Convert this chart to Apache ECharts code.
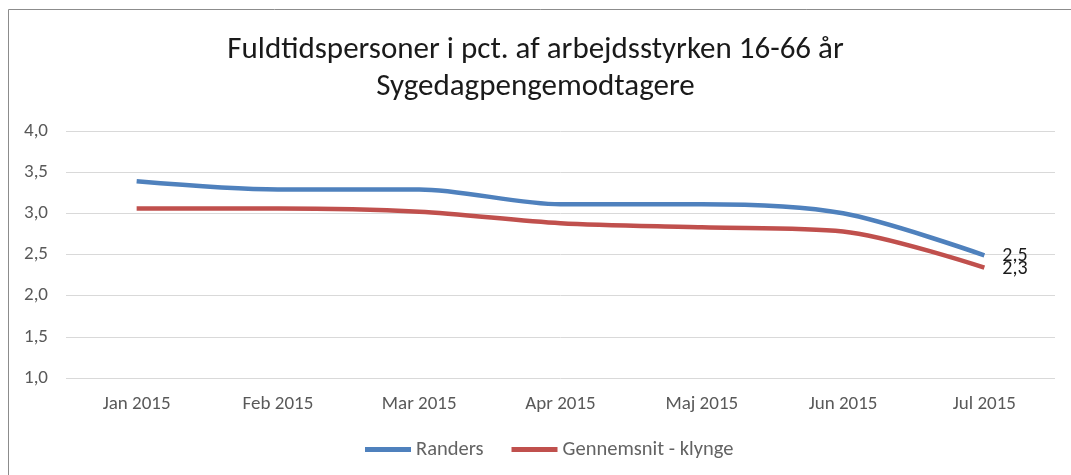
<!DOCTYPE html>
<html><head><meta charset="utf-8">
<script src="https://cdn.jsdelivr.net/npm/echarts@6/dist/echarts.min.js"></script>
<style>html,body{margin:0;padding:0;background:#fff}#c{width:1071px;height:475px}</style>
</head><body><div id="c"></div>
<script>
const categories = ['Jan 2015','Feb 2015','Mar 2015','Apr 2015','Maj 2015','Jun 2015','Jul 2015'];
const randers = [3.39, 3.29, 3.29, 3.11, 3.11, 3.0, 2.49];
const klynge = [3.06, 3.06, 3.02, 2.88, 2.83, 2.78, 2.34];
const seriesNames = ['Randers','Gennemsnit - klynge'];
const titleLines = ['Fuldtidspersoner i pct. af arbejdsstyrken 16-66 år','Sygedagpengemodtagere'];

const FONT = 'Carlito, "Open Sans", "Liberation Sans", sans-serif';
const chart = echarts.init(document.getElementById('c'));
const fmt = (v) => Number(v).toFixed(1).replace('.', ',');
chart.setOption({
  animation: false,
  textStyle: {fontFamily: FONT},
  title: {
    text: titleLines.join('\n'), left: 'center', top: 27,
    textStyle: {fontFamily: FONT, fontSize: 31, fontWeight: 'normal', color: '#1a1a1a', lineHeight: 37}
  },
  graphic: [{type: 'rect', shape: {x: 8.5, y: 9.5, width: 1100, height: 500},
    style: {fill: 'none', stroke: '#8c8c8c', lineWidth: 1}, silent: true}],
  legend: {
    top: 434, left: 360, itemGap: 28, itemWidth: 46, itemHeight: 5, icon: 'rect',
    textStyle: {fontFamily: FONT, fontSize: 20.5, color: '#636363'}
  },
  grid: {left: 66, right: 16, top: 131, bottom: 97, containLabel: false},
  xAxis: {
    type: 'category', data: categories, boundaryGap: true,
    axisLine: {show: false}, axisTick: {show: false},
    axisLabel: {fontFamily: FONT, fontSize: 19, color: '#595959', margin: 17}
  },
  yAxis: {
    type: 'value', min: 1, max: 4, interval: 0.5,
    axisLine: {show: false}, axisTick: {show: false},
    splitLine: {lineStyle: {color: '#d9d9d9', width: 1}},
    axisLabel: {fontFamily: FONT, fontSize: 19, color: '#595959', margin: 18, formatter: fmt}
  },
  series: [
    {name: seriesNames[0], type: 'line', data: randers, smooth: 0.3, symbol: 'none',
      lineStyle: {width: 4.5, color: '#4F81BD'}, itemStyle: {color: '#4F81BD'},
      endLabel: {show: true, distance: 18, formatter: p => fmt(p.value), offset: [0, 1],
        fontFamily: FONT, fontSize: 20, color: '#1a1a1a'}},
    {name: seriesNames[1], type: 'line', data: klynge, smooth: 0.3, symbol: 'none',
      lineStyle: {width: 4.5, color: '#C0504D'}, itemStyle: {color: '#C0504D'},
      endLabel: {show: true, distance: 18, formatter: p => fmt(p.value), offset: [0, 1],
        fontFamily: FONT, fontSize: 20, color: '#1a1a1a'}}
  ]
});
</script></body></html>
